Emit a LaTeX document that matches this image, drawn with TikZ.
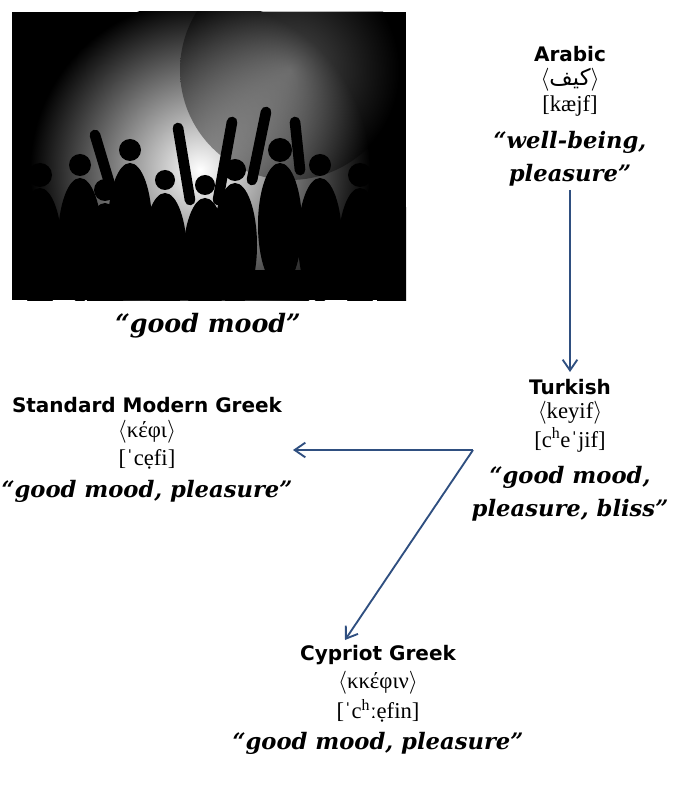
\documentclass[tikz,border=0pt]{standalone}
\usepackage{fontspec}
\setmainfont{Liberation Serif}
\newfontfamily\hdfont{DejaVu Sans}
\newfontfamily\qfont{DejaVu Serif}
\newfontfamily\arabicfont[Script=Arabic]{DejaVu Sans}
\TeXXeTstate=1
\usetikzlibrary{arrows.meta}
\definecolor{arr}{HTML}{2F4F80}
\tikzset{
  every node/.style={inner sep=0pt},
  hd/.style={font=\hdfont\bfseries\fontsize{15}{17}\selectfont},
  tx/.style={font=\fontsize{17}{19}\selectfont},
  qt/.style={font=\qfont\bfseries\itshape\fontsize{17}{25}\selectfont, align=center},
  conn/.style={draw=arr, line width=1.4pt, -{Straight Barb[length=8pt,width=11pt]}},
  sil/.style={fill=black}
}
\newcommand{\sh}{\textsuperscript{h}}
\begin{document}
\begin{tikzpicture}[x=0.75pt,y=-0.75pt]
\useasboundingbox (0,0) rectangle (677,791);
% photo
\begin{scope}
\clip (12,12) rectangle (406,300);
\fill[black] (12,12) rectangle (406,300);
\shade[inner color=white, outer color=black] (200,170) circle (170);
\shade[inner color=gray!50, outer color=black, opacity=0.4] (290,70) circle (110);
\foreach \x/\y/\r in {40/175/12, 80/165/11, 130/150/11, 165/180/10, 235/170/11, 280/150/12, 320/165/11, 360/175/12, 392/180/11, 105/190/11, 205/185/10}{
  \fill[sil] (\x,\y) circle (\r);
  \fill[sil] (\x,\y+75) ellipse (22 and 62);
}
\draw[black,line width=8pt,line cap=round] (190,200) -- (178,128);
\draw[black,line width=8pt,line cap=round] (218,200) -- (232,122);
\draw[black,line width=8pt,line cap=round] (252,180) -- (266,112);
\draw[black,line width=8pt,line cap=round] (300,170) -- (295,122);
\draw[black,line width=8pt,line cap=round] (110,185) -- (95,135);
\fill[black] (12,270) rectangle (406,300);
\end{scope}
\node[qt,font=\qfont\bfseries\itshape\fontsize{19}{22}\selectfont] (gm) at (208,326) {“good mood”};
% Arabic
\node[hd] (ar1) at (570,54) {Arabic};
\node[tx] (ar2) at (570,80) {$\langle$\arabicfont\beginR كيف\endR$\rangle$};
\node[tx] (ar3) at (570,106) {[kæjf]};
\node[qt] (ar4) at (570,159) {“well-being,\\pleasure”};
% Turkish
\node[hd] (tr1) at (570,387) {Turkish};
\node[tx] (tr2) at (570,413) {$\langle$keyif$\rangle$};
\node[tx] (tr3) at (570,440) {[c\sh eˈjif]};
\node[qt] (tr4) at (570,494) {“good mood,\\pleasure, bliss”};
% SMG
\node[hd] (sm1) at (147,405) {Standard Modern Greek};
\node[tx] (sm2) at (147,432) {$\langle$κέφι$\rangle$};
\node[tx] (sm3) at (147,459) {[ˈcẹfi]};
\node[qt] (sm4) at (147,491) {“good mood, pleasure”};
% Cypriot
\node[hd] (cy1) at (378,655) {Cypriot Greek};
\node[tx] (cy2) at (378,683) {$\langle$κκέφιν$\rangle$};
\node[tx] (cy3) at (378,711) {[ˈc\sh ːẹfin]};
\node[qt] (cy4) at (378,743) {“good mood, pleasure”};
% connectors
\coordinate (a0) at (570,190);
\coordinate (a1) at (570,372);
\coordinate (b0) at (473,450);
\coordinate (b1) at (293,450);
\coordinate (c1) at (345,640);
\draw[conn] (a0) -- (a1);
\draw[conn] (b0) -- (b1);
\draw[conn] (b0) -- (c1);
\end{tikzpicture}
\end{document}
